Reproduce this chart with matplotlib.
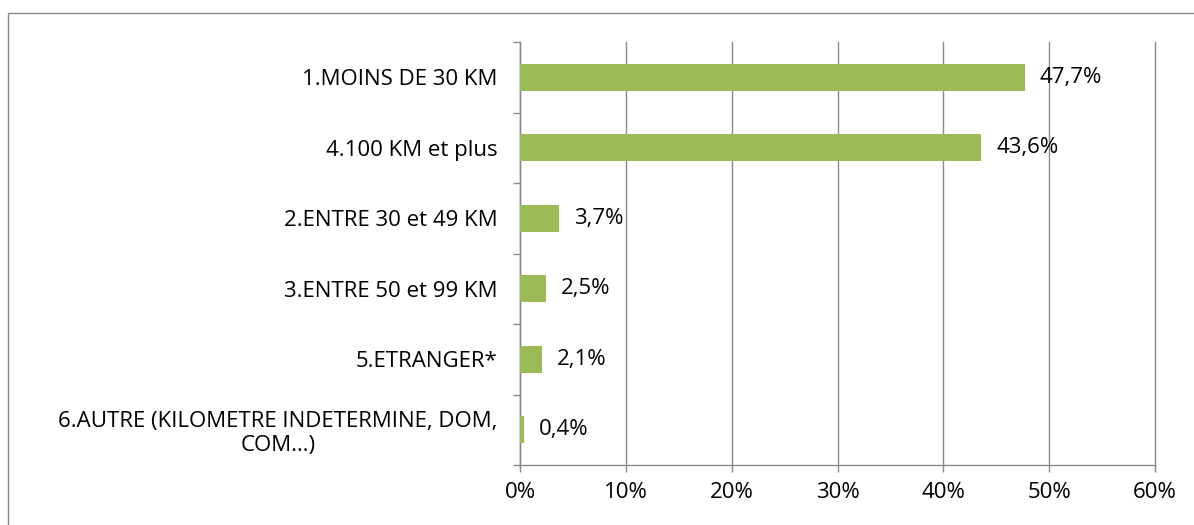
import matplotlib.pyplot as plt
import matplotlib.patches as mpatches

plt.rcParams['font.family'] = ['Open Sans', 'DejaVu Sans']

# données
categories = ['1.MOINS DE 30 KM', '4.100 KM et plus', '2.ENTRE 30 et 49 KM',
              '3.ENTRE 50 et 99 KM', '5.ETRANGER*',
              '6.AUTRE (KILOMETRE INDETERMINE, DOM,\nCOM…)']
values = [47.7, 43.6, 3.7, 2.5, 2.1, 0.4]
xticks = [0, 10, 20, 30, 40, 50, 60]

grey = '#898989'
green = '#9BBB59'
fs = 16

fig = plt.figure(figsize=(11.94, 5.25), dpi=100)
ax = fig.add_axes([520/1194, 1 - 465/525, (1155-520)/1194, (465-42)/525])

y = list(range(len(categories)))[::-1]
ax.barh(y, values, height=0.38, color=green, zorder=3)
ax.set_ylim(-0.5, len(categories) - 0.5)
ax.set_xlim(0, 60)

# étiquettes de valeurs
for yy, v in zip(y, values):
    ax.annotate(('%.1f%%' % v).replace('.', ','), (v, yy), xytext=(10.5, 0),
                textcoords='offset points', va='center', ha='left', fontsize=fs,
                zorder=4)

ax.set_yticks(y)
ax.set_yticklabels(categories, fontsize=fs, multialignment='center')
ax.tick_params(axis='y', length=0, pad=16)
# petits traits entre catégories
ax.set_yticks([i - 0.5 for i in range(len(categories) + 1)], minor=True)
ax.tick_params(axis='y', which='minor', length=5, color=grey, width=1)

ax.set_xticks(xticks)
ax.set_xticklabels(['%d%%' % t for t in xticks], fontsize=fs)
ax.tick_params(axis='x', length=5, color=grey, width=1, pad=7)
ax.grid(axis='x', color=grey, linewidth=1, zorder=0)
for gl in ax.get_xgridlines():
    gl.set_clip_on(False)

for s in ['top', 'right']:
    ax.spines[s].set_visible(False)
for s in ['left', 'bottom']:
    ax.spines[s].set_color(grey)
    ax.spines[s].set_linewidth(1)

# cadre du graphique
fig.patches.append(mpatches.Rectangle((8/1194, -0.1), 1.2, 1 - 13/525 + 0.1,
                                      transform=fig.transFigure, fill=False,
                                      edgecolor=grey, linewidth=1))

fig.savefig('out.png', dpi=100)
